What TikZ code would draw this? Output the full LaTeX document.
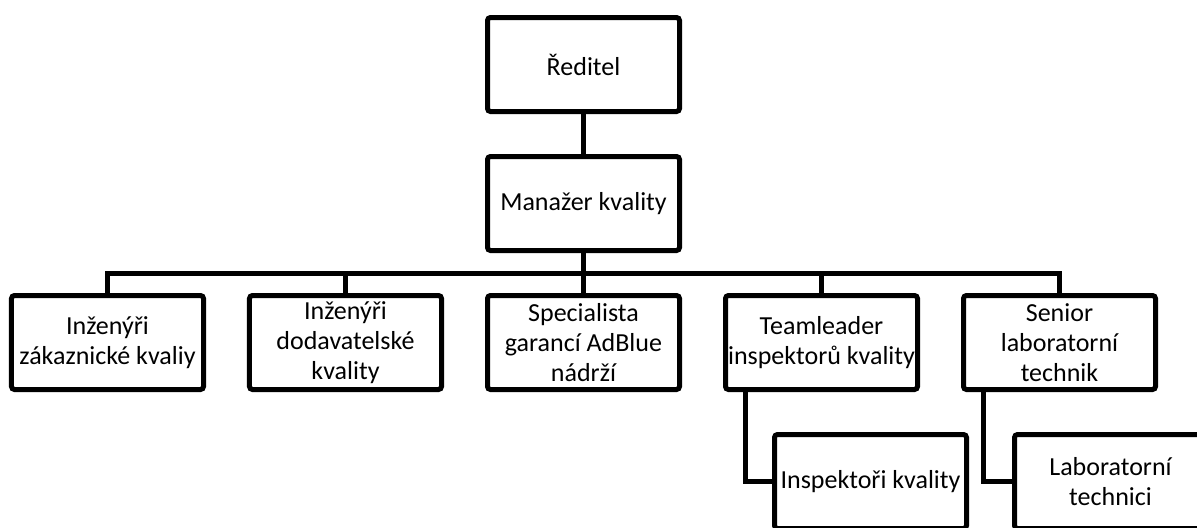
\documentclass[tikz,border=0pt]{standalone}
\usepackage{fontspec}
\setmainfont{Carlito}
\usetikzlibrary{positioning}
\begin{document}
\begin{tikzpicture}[x=0.5pt,y=-0.5pt,ampersand replacement=\&,node distance=20pt,
    box/.style={draw,line width=2.5pt,rounded corners=1.5pt,minimum width=96pt,minimum height=47pt,
      inner sep=0pt,align=center,font=\fontsize{13}{15}\selectfont},
    link/.style={-,line width=2.5pt}]
    \path[use as bounding box,clip] (0,0) rectangle (1197,527);
    \matrix (row) at (583.5,342.5) [column sep=20.5pt]
    {
      \node[box](ing){Inženýři\\zákaznické kvaliy}; \& \node[box](dod){Inženýři\\dodavatelské\\kvality}; \&
      \node[box](spec){Specialista\\garancí AdBlue\\nádrží}; \& \node[box](tl){Teamleader\\inspektorů kvality}; \&
      \node[box](sen){Senior\\laboratorní\\technik}; \\
    };
    \node[box,above=of spec](man){Manažer kvality};
    \node[box,above=of man](dir){Ředitel};
    \node[box,below right=20pt and 24.5pt of tl.south west](insp){Inspektoři kvality};
    \node[box,below right=20pt and 25.5pt of sen.south west](lab){Laboratorní\\technici};
    \coordinate (bus) at ([yshift=10pt]ing.north);
    \draw[link] (dir) -- (man);
    \draw[link] (man) -- (man |- bus);
    \draw[link] (ing) |- (bus) -| (sen);
    \foreach \n in {dod,spec,tl}
      \draw[link] (\n) -- (\n |- bus);
    \draw[link] (insp) -| ([xshift=11pt]tl.south west);
    \draw[link] (lab) -| ([xshift=11pt]sen.south west);
\end{tikzpicture}
\end{document}
